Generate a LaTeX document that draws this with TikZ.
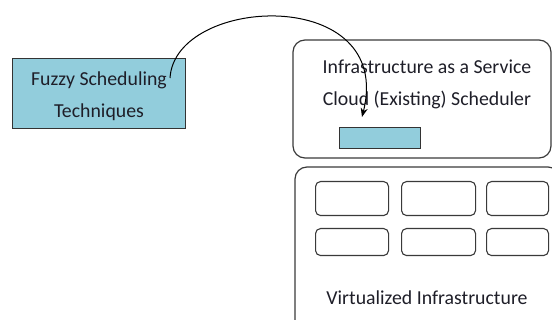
\documentclass[tikz,border=0pt]{standalone}
\usepackage{fontspec}
\setmainfont{Carlito}
\usetikzlibrary{arrows.meta}
\definecolor{boxblue}{HTML}{92CDDC}
\definecolor{edge}{HTML}{3A3A3A}
\definecolor{ink}{HTML}{1E1E28}
\tikzset{
  frame/.style={draw=edge, line width=1.2pt, rounded corners=12pt},
  cell/.style={draw=edge, line width=1.1pt, rounded corners=5pt},
  bluebox/.style={draw=black!80, line width=1.1pt, fill=boxblue},
  label/.style={text=ink, font=\fontsize{19.8}{32}\selectfont, align=center, inner sep=0pt},
}
\begin{document}
\begin{tikzpicture}[x=1pt,y=-1pt]
\useasboundingbox (0,0) rectangle (552,320);
\begin{scope}
\clip (0,0) rectangle (552,320);
% fuzzy scheduling box
\node[bluebox, minimum width=173pt, minimum height=70pt, anchor=north west] (fuzzy) at (12,58) {};
\node[label] (fuzzytxt) at (99,96) {Fuzzy Scheduling\\Techniques};
% IaaS scheduler box
\draw[frame] (293,40) rectangle (551,158);
\node[label] (iaastxt) at (427,84) {Infrastructure as a Service\\Cloud (Existing) Scheduler};
\node[bluebox, minimum width=81pt, minimum height=21pt, anchor=north west, inner sep=0pt] (slot) at (339,127) {};
% virtualized infrastructure box
\draw[frame] (295,167) rectangle (560,340);
\node[cell, minimum width=73pt, minimum height=34pt, anchor=north west] (c11) at (315,181) {};
\node[cell, minimum width=74pt, minimum height=34pt, anchor=north west] (c12) at (401,181) {};
\node[cell, minimum width=62pt, minimum height=34pt, anchor=north west] (c13) at (486,181) {};
\node[cell, minimum width=73pt, minimum height=27pt, anchor=north west] (c21) at (315,228) {};
\node[cell, minimum width=74pt, minimum height=27pt, anchor=north west] (c22) at (401,228) {};
\node[cell, minimum width=62pt, minimum height=27pt, anchor=north west] (c23) at (486,228) {};
\node[label] (virt) at (427,298) {Virtualized Infrastructure};
% plug-in arrow
\coordinate (from) at (170,78);
\coordinate (to) at (362,117);
\draw[line width=1pt, -{Stealth[length=9pt,width=7pt]}] (from) .. controls (175,-5) and (395,-15) .. (to);
\end{scope}
\end{tikzpicture}
\end{document}
